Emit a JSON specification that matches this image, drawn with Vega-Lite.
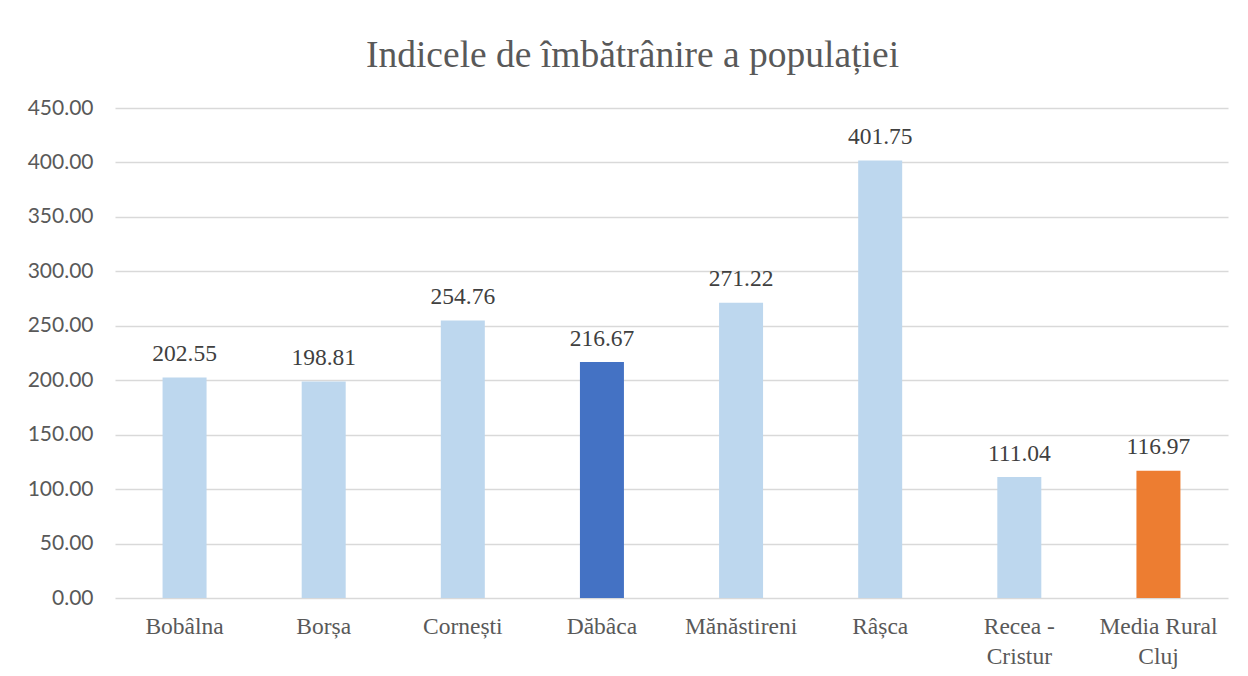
{
  "$schema": "https://vega.github.io/schema/vega-lite/v6.json",
  "autosize": "none",
  "width": 1113,
  "height": 490,
  "padding": {"left": 115, "top": 108, "right": 20, "bottom": 78},
  "background": "white",
  "title": {
    "text": "Indicele de îmbătrânire a populației",
    "font": "Liberation Serif",
    "fontSize": 37.5,
    "fontWeight": "normal",
    "color": "#595959",
    "anchor": "middle",
    "dx": -39,
    "offset": 23
  },
  "data": {
    "values": [
      {"loc": "Bobâlna", "val": 202.55, "grp": "a"},
      {"loc": "Borșa", "val": 198.81, "grp": "a"},
      {"loc": "Cornești", "val": 254.76, "grp": "a"},
      {"loc": "Dăbâca", "val": 216.67, "grp": "b"},
      {"loc": "Mănăstireni", "val": 271.22, "grp": "a"},
      {"loc": "Râșca", "val": 401.75, "grp": "a"},
      {"loc": "Recea - Cristur", "val": 111.04, "grp": "a"},
      {"loc": "Media Rural Cluj", "val": 116.97, "grp": "c"}
    ]
  },
  "encoding": {
    "x": {
      "field": "loc",
      "type": "nominal",
      "sort": null,
      "title": null,
      "scale": {"paddingInner": 0, "paddingOuter": 0},
      "axis": {
        "labelAngle": 0,
        "labelFont": "Liberation Serif",
        "labelFontSize": 23.5,
        "labelColor": "#595959",
        "labelPadding": 16,
        "labelLineHeight": 30,
        "ticks": false,
        "domain": false,
        "labelExpr": "datum.value == 'Recea - Cristur' ? ['Recea -', 'Cristur'] : datum.value == 'Media Rural Cluj' ? ['Media Rural', 'Cluj'] : datum.value"
      }
    },
    "y": {
      "field": "val",
      "type": "quantitative",
      "title": null,
      "scale": {"domain": [0, 450], "nice": false},
      "axis": {
        "values": [0, 50, 100, 150, 200, 250, 300, 350, 400, 450],
        "format": ".2f",
        "labelFont": "Lato",
        "labelFontSize": 21,
        "labelColor": "#595959",
        "labelPadding": 22,
        "ticks": false,
        "domain": false,
        "gridColor": "#d9d9d9",
        "gridWidth": 1.5
      }
    }
  },
  "layer": [
    {
      "mark": {"type": "bar", "size": 44},
      "encoding": {
        "color": {
          "field": "grp",
          "type": "nominal",
          "scale": {"domain": ["a", "b", "c"], "range": ["#BDD7EE", "#4472C4", "#ED7D31"]},
          "legend": null
        }
      }
    },
    {
      "mark": {"type": "text", "baseline": "alphabetic", "dy": -16.5, "font": "Liberation Serif", "fontSize": 23.5, "color": "#404040"},
      "encoding": {
        "text": {"field": "val", "type": "quantitative", "format": ".2f"}
      }
    }
  ],
  "config": {
    "view": {"stroke": null}
  }
}
